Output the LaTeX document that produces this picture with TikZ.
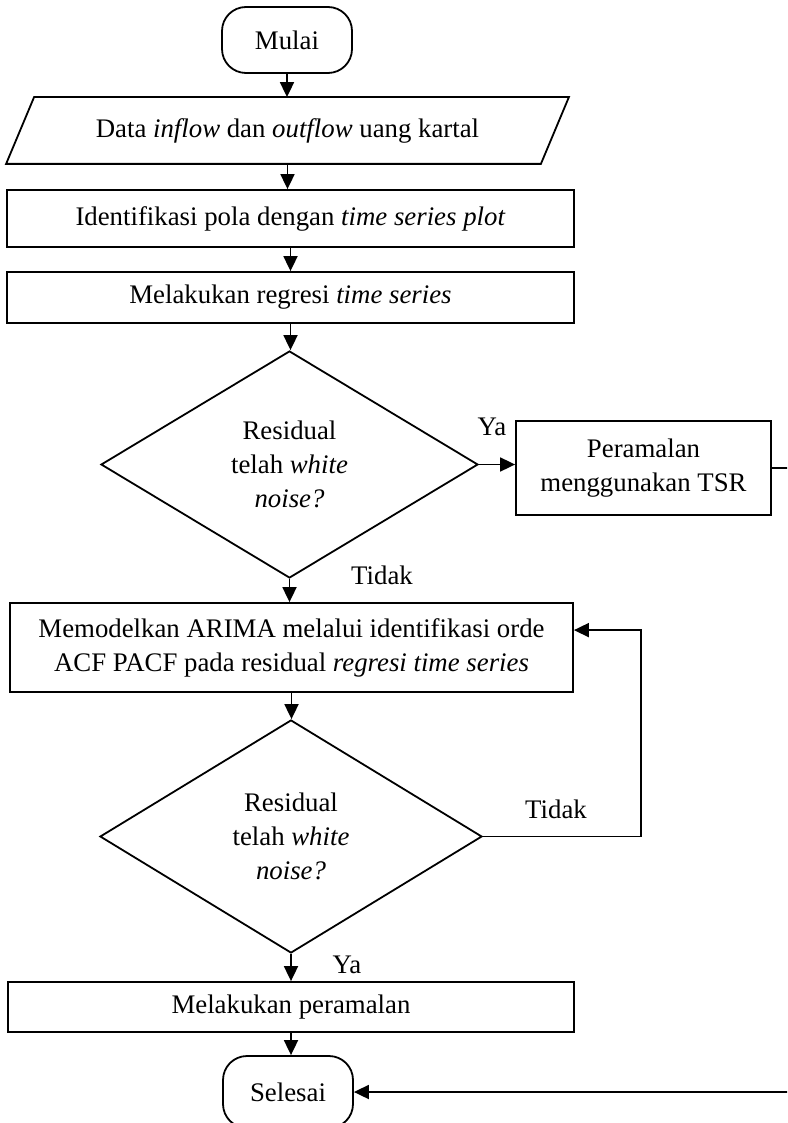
\documentclass[tikz,border=0pt]{standalone}
\usepackage{fontspec}
\setmainfont{Liberation Serif}
\usetikzlibrary{arrows.meta,shapes.geometric,calc}
\begin{document}
\begin{tikzpicture}[x=1pt,y=-1pt,
  font=\fontsize{26.8}{34}\selectfont,
  line width=1.8pt,
  box/.style={draw,rectangle,inner sep=0pt,align=center},
  term/.style={draw,rectangle,rounded corners=24pt,inner sep=0pt,minimum width=130pt},
  decision/.style={draw,diamond,inner sep=0pt,align=center},
  arr/.style={-{Triangle[length=15pt,width=14pt]}},
  lbl/.style={inner sep=0pt}
]
\useasboundingbox (0,0) rectangle (787,1123);
\clip (0,0) rectangle (787,1123);

% start / input
\node[term,minimum height=66pt] (mulai) at (287,40) {Mulai};
\node[inner sep=0pt,minimum width=533pt,minimum height=65pt] (data) at (287.5,130.5)
  {Data \textit{inflow} dan \textit{outflow} uang kartal};
\draw ($(data.north west)+(14,0)$) -- ($(data.north east)+(14,0)$)
  -- ($(data.south east)+(-14,0)$) -- ($(data.south west)+(-14,0)$) -- cycle;

% processing steps
\node[box,minimum width=567pt,minimum height=57pt] (ident) at (290.5,218.5)
  {Identifikasi pola dengan \textit{time series plot}};
\node[box,minimum width=567pt,minimum height=51pt] (regresi) at (290.5,297.5)
  {Melakukan regresi \textit{time series}};
\node[decision,minimum width=377pt,minimum height=227pt] (d1) at (289.5,464.5)
  {Residual\\ telah \textit{white}\\ \textit{noise?}};
\node[box,minimum width=255pt,minimum height=94pt] (tsr) at (643.5,468)
  {Peramalan\\ menggunakan TSR};
\node[box,minimum width=563pt,minimum height=89pt] (arima) at (291.5,647.5)
  {Memodelkan ARIMA melalui identifikasi orde\\ ACF PACF pada residual \textit{regresi time series}};
\node[decision,minimum width=382pt,minimum height=233pt] (d2) at (291,836.5)
  {Residual\\ telah \textit{white}\\ \textit{noise?}};
\node[box,minimum width=566pt,minimum height=50pt] (ramal) at (291,1007)
  {Melakukan peramalan};
\node[term,minimum height=72pt] (selesai) at (288,1092) {Selesai};

% branch labels
\node[lbl] (ya1) at (492,427) {Ya};
\node[lbl] (tidak1) at (382,575) {Tidak};
\node[lbl] (tidak2) at (556,809) {Tidak};
\node[lbl] (ya2) at (347,965) {Ya};

% connectors
\draw[arr] (mulai.south) -- (mulai.south |- data.north);
\draw[arr] (data.south) -- (data.south |- ident.north);
\draw[arr] (ident.south) -- (ident.south |- regresi.north);
\draw[arr] (regresi.south) -- (regresi.south |- d1.north);
\draw[arr] (d1.east) -- (tsr.west |- d1.east);
\draw[arr] (d1.south) -- (d1.south |- arima.north);
\draw[arr] (arima.south) -- (arima.south |- d2.north);
\draw[arr] (d2.south) -- (d2.south |- ramal.north);
\draw[arr] (ramal.south) -- (ramal.south |- selesai.north);

\coordinate (loop) at (641,0);
\coordinate (arimain) at ($(arima.north east)+(0,28)$);
\draw[arr] (d2.east) -- (loop |- d2.east) -- (loop |- arimain) -- (arimain);

\coordinate (rim) at (800,0);
\draw[arr] (tsr.east) -- (rim |- tsr.east) -- (rim |- selesai.east) -- (selesai.east);
\end{tikzpicture}
\end{document}
